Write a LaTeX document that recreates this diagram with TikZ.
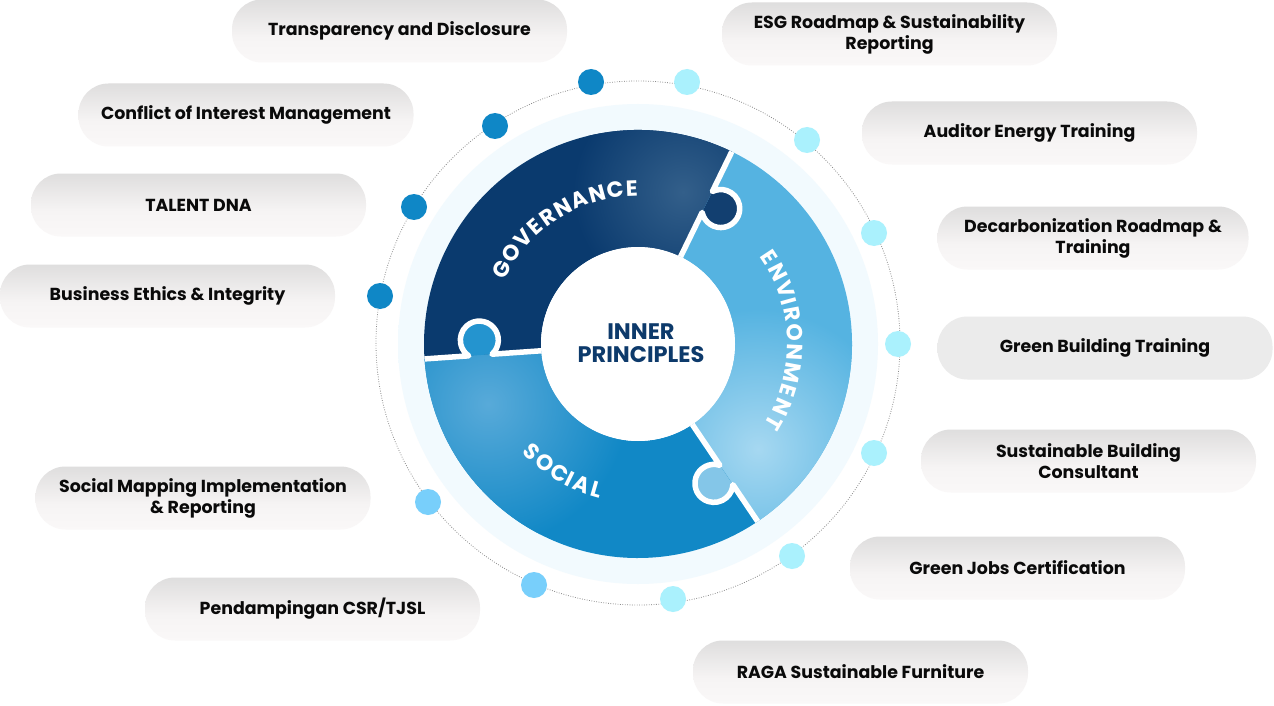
\documentclass[tikz,border=0pt]{standalone}
\usepackage{fontspec}
\setmainfont{Poppins}
\definecolor{govc}{HTML}{0A3A6E}
\definecolor{govglow}{HTML}{335F8A}
\definecolor{govknob}{HTML}{123F70}
\definecolor{envc}{HTML}{55B3E1}
\definecolor{envglow}{HTML}{A6D8F1}
\definecolor{envknob}{HTML}{84C6E8}
\definecolor{socc}{HTML}{1188C6}
\definecolor{socglow}{HTML}{58AAD9}
\definecolor{socknob}{HTML}{2494CF}
\definecolor{dotdark}{HTML}{0F87C6}
\definecolor{dotcyan}{HTML}{AAF1FD}
\definecolor{dotblue}{HTML}{78CFFB}
\definecolor{navytxt}{HTML}{0D3A6B}
\definecolor{pilltop}{HTML}{CBCBCB}
\definecolor{pillmid}{HTML}{F6F4F4}
\definecolor{pillbot}{HTML}{FFFDFD}
\definecolor{pillflat}{HTML}{EBEBEB}
\definecolor{haloc}{HTML}{F2FAFE}
\definecolor{txtc}{HTML}{0A0A0A}
\pgfdeclareverticalshading{pillshade}{100bp}{color(0bp)=(pillbot); color(45bp)=(pillmid); color(100bp)=(pilltop)}
\pgfdeclareradialshading{halo}{\pgfpoint{0bp}{0bp}}{color(0bp)=(haloc); color(44.6bp)=(haloc); color(50bp)=(white)}
\newcommand{\pillfont}{\bfseries\fontsize{17.4}{21}\selectfont}
\begin{document}
\begin{tikzpicture}[x=1pt,y=1pt,
  pill/.style={rounded corners=30pt, minimum width=335pt, minimum height=63pt, inner sep=0pt,
    shade, shading=pillshade, align=center, font=\pillfont, text=txtc},
  flatpill/.style={pill, shading=axis, top color=pillflat, bottom color=pillflat},
  dotnode/.style={circle, minimum size=26pt, inner sep=0pt},
  orbit/.style={draw=black!45, line width=0.8pt, dash pattern=on 0.8pt off 1.6pt},
  seam/.style={draw=white, line width=5.5pt, line join=round},
  ringtxt/.style={text=white, inner sep=0pt, font=\bfseries\fontsize{22}{22}\selectfont},
  centertxt/.style={text=navytxt, align=center, font=\bfseries\fontsize{22.5}{23.5}\selectfont}]
\useasboundingbox (0,0) rectangle (1274,-706);
\fill[white] (0,0) rectangle (1274,-706);
% halo and orbit
\shade[shading=halo] (638,-344) circle (240);
\draw[orbit] (638,-343) circle (262);
% ring
\begin{scope}[shift={(638,-344)}]
  \def\rIn{97}\def\rOut{214}
  % governance
  \fill[govc] (64:\rOut) arc[start angle=64,end angle=184,radius=\rOut] -- (184:\rIn) arc[start angle=184,end angle=64,radius=\rIn] -- cycle;
  \begin{scope}
    \clip (64:\rOut) arc[start angle=64,end angle=184,radius=\rOut] -- (184:\rIn) arc[start angle=184,end angle=64,radius=\rIn] -- cycle;
    \shade[inner color=govglow, outer color=govc] (45,152) circle (110);
  \end{scope}
  % environment
  \fill[envc] (-56:\rOut) arc[start angle=-56,end angle=64,radius=\rOut] -- (64:\rIn) arc[start angle=64,end angle=-56,radius=\rIn] -- cycle;
  \begin{scope}
    \clip (-56:\rOut) arc[start angle=-56,end angle=64,radius=\rOut] -- (64:\rIn) arc[start angle=64,end angle=-56,radius=\rIn] -- cycle;
    \shade[inner color=envglow, outer color=envc] (120,-105) circle (140);
  \end{scope}
  % social
  \fill[socc] (184:\rOut) arc[start angle=184,end angle=304,radius=\rOut] -- (304:\rIn) arc[start angle=304,end angle=184,radius=\rIn] -- cycle;
  \begin{scope}
    \clip (184:\rOut) arc[start angle=184,end angle=304,radius=\rOut] -- (304:\rIn) arc[start angle=304,end angle=184,radius=\rIn] -- cycle;
    \shade[inner color=socglow, outer color=socc] (-150,-60) circle (140);
  \end{scope}
  % knobs (flat fills, drawn after all pieces)
  \begin{scope}[rotate=64]
    \fill[govknob] (146.34,0) arc[start angle=127.9,end angle=412.1,radius=19] -- cycle;
  \end{scope}
  \begin{scope}[rotate=304]
    \fill[envknob] (146.34,0) arc[start angle=127.9,end angle=412.1,radius=19] -- cycle;
  \end{scope}
  \begin{scope}[rotate=184]
    \fill[socknob] (146.34,0) arc[start angle=127.9,end angle=412.1,radius=19] -- cycle;
  \end{scope}
  % seams with knobs
  \foreach \phi in {64,184,304}
    \draw[seam, rotate=\phi] (\rIn,0) -- (146.34,0) arc[start angle=127.9,end angle=412.1,radius=19] -- (\rOut,0);
  % inner disc
  \fill[white] (0,0) circle (\rIn);
  % ring labels
  \foreach \ch/\a [count=\i] in {G/151.25, O/144.16, V/137.25, E/131.15, R/125.31, N/118.81, A/112.03, N/105.25, C/98.47, E/92.34}
    \node[ringtxt, rotate=\a-90] (gov\i) at (\a:156) {\ch};
  \foreach \ch/\a [count=\i] in {E/33.5, N/27.19, V/20.48, I/15.57, R/10.87, O/4.16, N/-2.95, M/-10.47, E/-17.38, N/-23.69, T/-30.0}
    \node[ringtxt, rotate=\a-90] (env\i) at (\a:157) {\ch};
  \foreach \ch/\a [count=\i] in {S/225.4, O/231.81, C/238.64, I/243.38, A/248.12, L/253.95}
    \node[ringtxt, rotate=\a+90] (soc\i) at (\a:151) {\ch};
\end{scope}
\node[centertxt] (core) at (641,-343) {INNER\\PRINCIPLES};
% dots on orbit
\node[dotnode, fill=dotdark] (dg1) at (591,-82) {};
\node[dotnode, fill=dotdark] (dg2) at (495,-126) {};
\node[dotnode, fill=dotdark] (dg3) at (414,-207) {};
\node[dotnode, fill=dotdark] (dg4) at (380,-296) {};
\node[dotnode, fill=dotcyan] (de1) at (687,-82) {};
\node[dotnode, fill=dotcyan] (de2) at (807,-140) {};
\node[dotnode, fill=dotcyan] (de3) at (874,-233) {};
\node[dotnode, fill=dotcyan] (de4) at (898,-344) {};
\node[dotnode, fill=dotcyan] (de5) at (874,-453) {};
\node[dotnode, fill=dotcyan] (de6) at (792,-556) {};
\node[dotnode, fill=dotcyan] (de7) at (673,-599) {};
\node[dotnode, fill=dotblue] (ds1) at (428,-502) {};
\node[dotnode, fill=dotblue] (ds2) at (534,-585) {};
% pills
\node[pill] (p1) at (399.5,-31) {Transparency and Disclosure};
\node[pill] (p2) at (246,-115) {Conflict of Interest Management};
\node[pill] (p3) at (198.5,-205) {TALENT DNA};
\node[pill] (p4) at (167.5,-296) {Business Ethics \& Integrity};
\node[pill] (p5) at (203,-498) {Social Mapping Implementation\\\& Reporting};
\node[pill] (p6) at (312.5,-609) {Pendampingan CSR/TJSL};
\node[pill] (p7) at (889.5,-34) {ESG Roadmap \& Sustainability\\Reporting};
\node[pill] (p8) at (1029.5,-133) {Auditor Energy Training};
\node[pill, minimum width=311pt] (p9) at (1093,-238) {Decarbonization Roadmap \&\\Training};
\node[flatpill] (p10) at (1105,-348) {Green Building Training};
\node[pill] (p11) at (1088.5,-461) {Sustainable Building\\Consultant};
\node[pill] (p12) at (1017.5,-568) {Green Jobs Certification};
\node[pill] (p13) at (860.5,-672) {RAGA Sustainable Furniture};
\end{tikzpicture}
\end{document}
